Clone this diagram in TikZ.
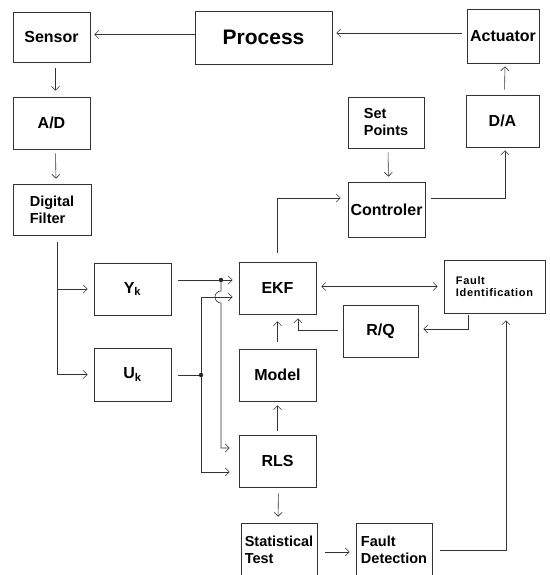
\documentclass[tikz,border=0pt]{standalone}
\usepackage{fontspec}
\setmainfont{Liberation Sans}
\usetikzlibrary{arrows.meta}

\begin{document}
\begin{tikzpicture}[
  x=1pt, y=1pt,
  font=\bfseries\fontsize{16}{17}\selectfont,
  blk/.style={rectangle, draw=black!80, line width=0.7pt, align=left,
    inner sep=2pt, text=black},
  sz/.style 2 args={minimum width=#1pt, minimum height=#2pt},
  two/.style={font=\bfseries\fontsize{14.5}{17}\selectfont},
  sig/.style={-{Straight Barb[length=4pt,width=8pt]}, line width=0.6pt,
    draw=black!80, shorten >=4pt},
  dot/.style={fill=black!85},
]
\useasboundingbox (0,0) rectangle (549,-575);

% top loop
\node[blk, sz={77}{50}] (sensor) at (51.5,-37) {Sensor};
\node[blk, sz={137}{53}, font=\bfseries\fontsize{21}{22}\selectfont] (process) at (263.5,-37.5) {Process};
\node[blk, sz={72}{54}] (actuator) at (503,-36) {Actuator};
\node[blk, sz={77}{52}] (ad) at (51.5,-123) {A/D};
\node[blk, sz={78}{51}, two] (dfilter) at (52,-209.5) {Digital\\Filter};
\node[blk, sz={73}{52}] (da) at (502.5,-121) {D/A};
\node[blk, sz={76}{51}, two] (setp) at (386,-122.5) {Set\\Points};
\node[blk, sz={77}{55}] (ctrl) at (386.5,-209.5) {Controler};

% estimation part
\node[blk, sz={77}{52}] (yk) at (132.5,-289) {Y\textsubscript{k}};
\node[blk, sz={77}{53}] (uk) at (132.5,-374.5) {U\textsubscript{k}};
\node[blk, sz={77}{52}] (ekf) at (277.5,-288) {EKF};
\node[blk, sz={101}{53}, font=\bfseries\fontsize{11}{12.5}\selectfont\addfontfeature{LetterSpace=6}] (fid) at (494.5,-286.5) {Fault\\Identification};
\node[blk, sz={75}{52}] (rq) at (380.5,-331) {R/Q};
\node[blk, sz={77}{52}] (model) at (277.5,-375) {Model};
\node[blk, sz={77}{52}] (rls) at (277.5,-461) {RLS};
\node[blk, sz={76}{54}, two] (stat) at (279,-550) {Statistical\\Test};
\node[blk, sz={76}{54}, two] (fdet) at (394,-550) {Fault\\Detection};

\coordinate (ydot) at (221,-280);
\coordinate (udot) at (201,-375);

\draw[sig] ([yshift=3pt]process.west) -- ([yshift=3pt]process.west -| sensor.east);
\draw[sig, shorten <=5pt] ([yshift=3pt]actuator.west) -- ([yshift=3pt]actuator.west -| process.east);
\draw[sig, shorten <=6pt, shorten >=6pt] ([xshift=4pt]sensor.south) -- ([xshift=4pt]ad.north);
\draw[sig, shorten <=4pt, shorten >=5pt] ([xshift=4pt]ad.south) -- ([xshift=4pt]dfilter.north);
\draw[sig, shorten <=5pt, shorten >=3pt] ([xshift=2pt]da.north) -- ([xshift=2pt]actuator.south);
\draw[sig, shorten <=4pt, shorten >=5pt] ([xshift=2pt]setp.south) -- ([xshift=2pt]ctrl.north);
\draw[sig, shorten <=6pt, shorten >=3pt] ([yshift=11.5pt]ctrl.east) -| ([xshift=2.5pt]da.south);
\draw[sig, shorten <=9pt, shorten >=7pt] (ekf.north) |- ([yshift=11.5pt]ctrl.west);

\draw[sig, shorten <=7pt, shorten >=6pt] ([xshift=5pt]dfilter.south) |- (yk.west);
\draw[sig, shorten <=7pt, shorten >=6pt] ([xshift=5pt]dfilter.south) |- (uk.west);

% inputs to EKF and RLS
\draw[sig, shorten <=7pt, shorten >=6pt] (yk.east |- ydot) -- (ydot -| ekf.west);
\draw[sig, shorten <=7pt, shorten >=6pt] (uk.east |- udot) -- (udot) |- ([yshift=-9pt]ekf.west);
\draw[sig, shorten >=9pt] (udot) |- ([yshift=-11pt]rls.west);
\draw[sig, shorten >=9pt] (ydot) -- ++(0,-11) arc[start angle=90, end angle=270, radius=6] |- ([yshift=13pt]rls.west);
\fill[dot] (ydot) circle (2.2pt);
\fill[dot] (udot) circle (2.2pt);

\draw[sig, {Straight Barb[length=4pt,width=8pt]}-{Straight Barb[length=4pt,width=8pt]}, shorten <=5pt, shorten >=6pt] (fid.west -| ekf.east) -- (fid.west);
\draw[sig, shorten <=2pt, shorten >=5pt] ([xshift=-26.5pt]fid.south) |- ([yshift=2pt]rq.east);
\draw[sig, shorten <=5pt] ([yshift=1pt]rq.west) -| ([xshift=20.5pt]ekf.south);
\draw[sig, shorten <=7pt, shorten >=7pt] (model.north) -- (ekf.south);
\draw[sig, shorten <=4pt] (rls.north) -- (model.south);
\draw[sig, shorten <=6pt, shorten >=6pt] ([xshift=1pt]rls.south) -- ([xshift=-1pt]stat.north);
\draw[sig, shorten <=8pt, shorten >=6pt] ([yshift=-2pt]stat.east) -- ([yshift=-2pt]fdet.west);
\draw[sig, shorten <=8pt, shorten >=7pt] (fdet.east) -| ([xshift=11.5pt]fid.south);
\end{tikzpicture}
\end{document}
